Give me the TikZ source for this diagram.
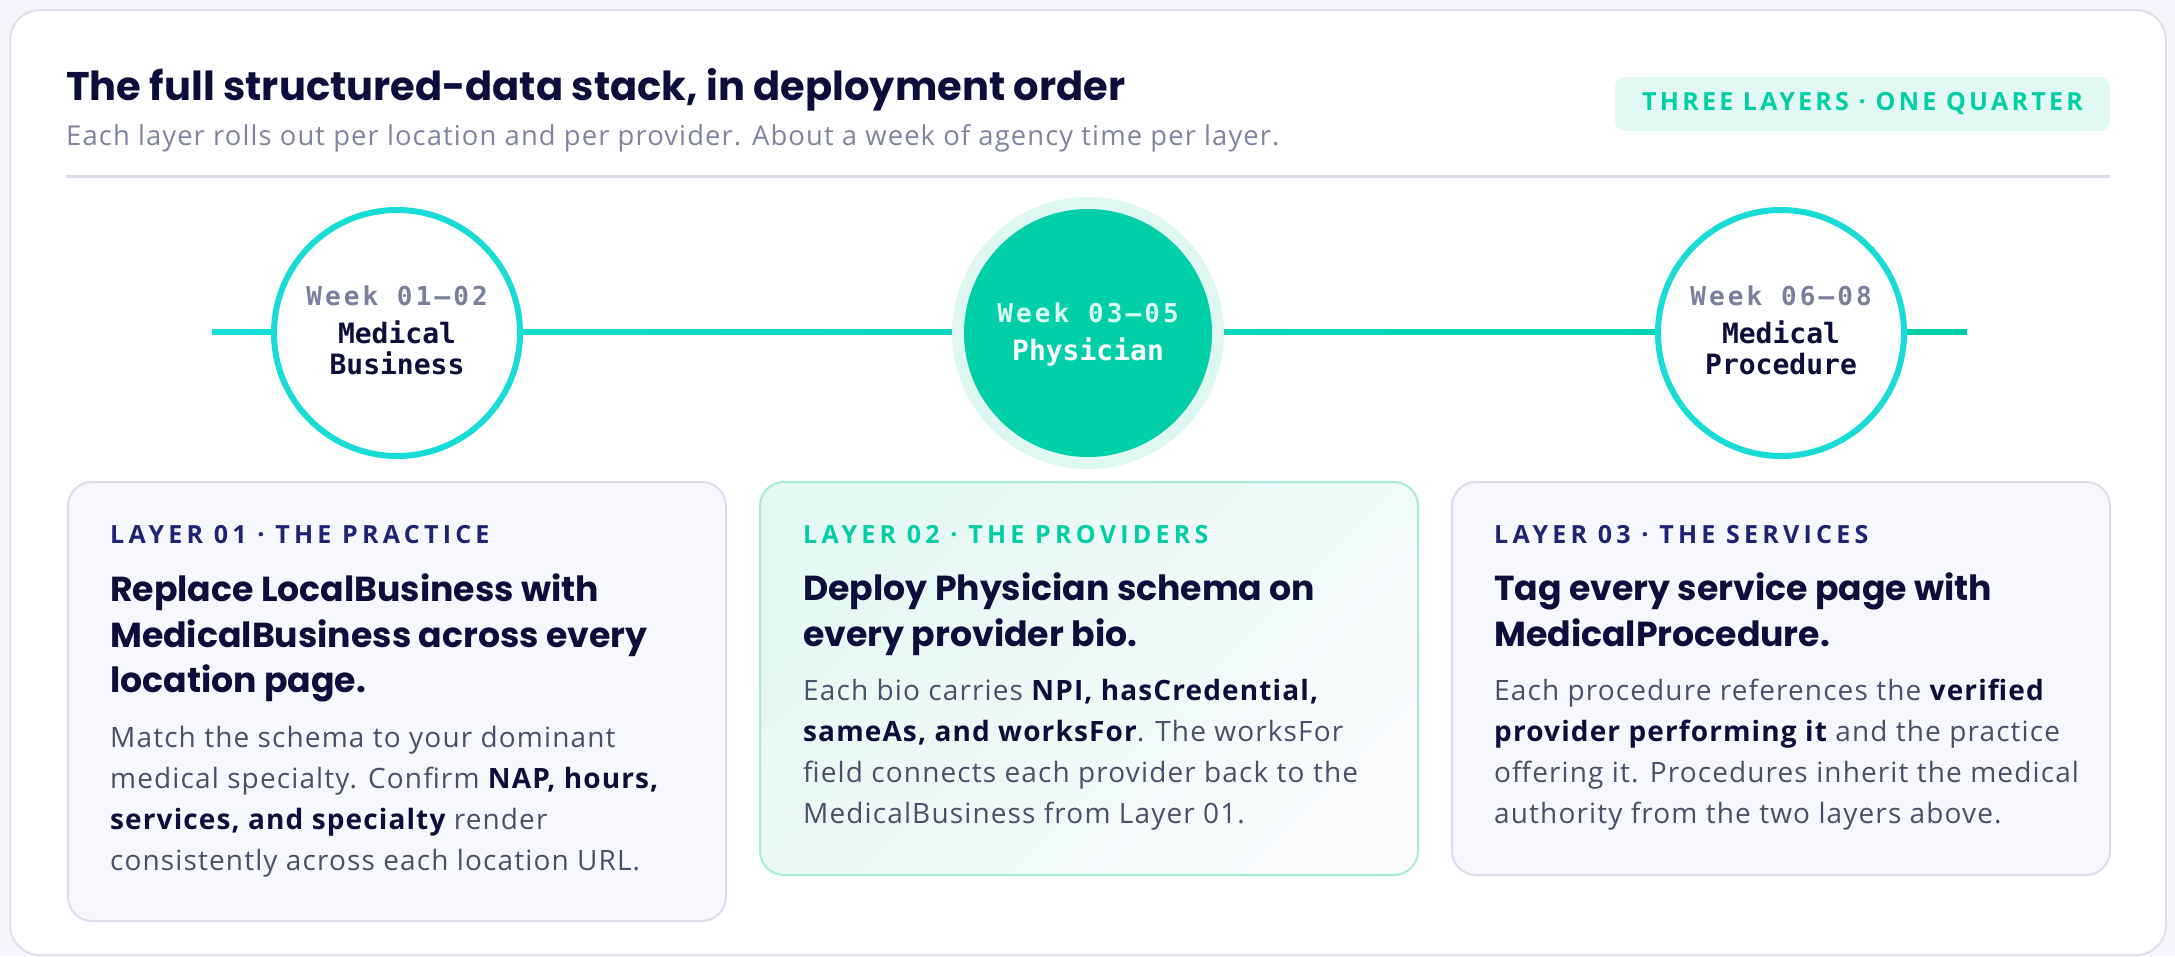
\documentclass[tikz,border=0pt]{standalone}
\usepackage{fontspec}
\usetikzlibrary{calc}
\newfontfamily\headfont{Poppins}
\newfontfamily\bodyfont{Open Sans}[LetterSpace=4]
\newfontfamily\labelfont{Open Sans}[LetterSpace=17]
\newfontfamily\badgefont{Open Sans}[LetterSpace=13]
\newfontfamily\monofont{DejaVu Sans Mono}
\newfontfamily\monowide{DejaVu Sans Mono}[LetterSpace=12]
\definecolor{pagebg}{HTML}{F6F7FC}
\definecolor{cardline}{HTML}{DFE0EC}
\definecolor{ink}{HTML}{0E0E3C}
\definecolor{subgray}{HTML}{80849F}
\definecolor{bodygray}{HTML}{4B4F69}
\definecolor{sepline}{HTML}{DCDCE9}
\definecolor{badgebg}{HTML}{E2F8F2}
\definecolor{mint}{HTML}{00CFA3}
\definecolor{navy}{HTML}{1F2374}
\definecolor{cyanA}{HTML}{1ADCD7}
\definecolor{greenA}{HTML}{00CFA8}
\definecolor{halo}{HTML}{DFF7F1}
\definecolor{weekgray}{HTML}{7B7F9E}
\definecolor{weeklight}{HTML}{DCFBF2}
\definecolor{cardfill}{HTML}{F7F8FE}
\definecolor{cardedge}{HTML}{DCDCEC}
\definecolor{mintedge}{HTML}{A6ECD9}
\definecolor{mintfill}{HTML}{E5F8F3}
\definecolor{mintend}{HTML}{F9FBFD}
\newcommand\bodystrong[1]{{\bfseries\color{ink}#1}}
\tikzset{
  txt/.style={inner sep=0pt, anchor=base west},
  ctr/.style={inner sep=0pt, anchor=base},
  titlefont/.style={font=\headfont\bfseries\fontsize{40}{48}\selectfont, text=ink},
  subfont/.style={font=\bodyfont\fontsize{27.4}{32}\selectfont, text=subgray},
  headtxt/.style={txt, font=\headfont\bfseries\fontsize{34.7}{42}\selectfont, text=ink},
  bodytxt/.style={txt, font=\bodyfont\fontsize{28}{33}\selectfont, text=bodygray},
  labeltxt/.style={txt, font=\labelfont\bfseries\fontsize{25}{30}\selectfont},
  weektxt/.style={ctr, font=\monowide\bfseries\fontsize{26}{31}\selectfont},
  nametxt/.style={ctr, font=\monofont\bfseries\fontsize{28}{33}\selectfont},
  ring/.style={circle, minimum size=246pt, inner sep=0pt, draw=cyanA, line width=6pt, fill=white},
  cardbox/.style={rectangle, rounded corners=24pt, draw=cardedge, line width=2pt, fill=cardfill, minimum width=658pt, minimum height=439pt, inner sep=0pt},
}
\begin{document}
\begin{tikzpicture}[x=1pt,y=-1pt]
\useasboundingbox (0,0) rectangle (2175,956);
\fill[pagebg] (0,0) rectangle (2175,956);
\node[rectangle, rounded corners=30pt, draw=cardline, line width=2pt, fill=white, minimum width=2156pt, minimum height=945pt, inner sep=0pt] (outer) at (1088,482.5) {};

% header
\node[txt, titlefont] (title) at (66,100) {The full structured-data stack, in deployment order};
\node[txt, subfont] (subtitle) at (66,145) {Each layer rolls out per location and per provider. About a week of agency time per layer.};
\node[rectangle, rounded corners=10pt, fill=badgebg, minimum width=495pt, minimum height=54pt, inner sep=0pt,
      font=\badgefont\bfseries\fontsize{25}{30}\selectfont, text=mint] (badge) at (1862.5,104) {THREE LAYERS · ONE QUARTER};
\coordinate (sepL) at (66,176);
\coordinate (sepR) at (2110,176);
\draw[sepline, line width=3pt] (sepL) -- (sepR);

% timeline
\coordinate (tlL) at (212,332);
\coordinate (tlR) at (1967,332);
\shade[left color=cyanA, right color=greenA] ($(tlL)+(0,-2.75)$) rectangle ($(tlR)+(0,2.75)$);

\node[circle, minimum size=272pt, inner sep=0pt, fill=halo] (c2halo) at (1088,333) {};
\node[ring] (c1) at (397,333) {};
\node[circle, minimum size=248pt, inner sep=0pt, fill=greenA] (c2) at (1088,333) {};
\node[ring] (c3) at (1781,333) {};

\node[weektxt, text=weekgray] (w1) at (397,305) {Week 01–02};
\node[nametxt, text=ink] (n1a) at (397,343) {Medical};
\node[nametxt, text=ink] (n1b) at (397,374) {Business};

\node[weektxt, text=weeklight] (w2) at (1088,322) {Week 03–05};
\node[nametxt, text=white] (n2) at (1088,360) {Physician};

\node[weektxt, text=weekgray] (w3) at (1781,305) {Week 06–08};
\node[nametxt, text=ink] (n3a) at (1781,343) {Medical};
\node[nametxt, text=ink] (n3b) at (1781,374) {Procedure};

% cards
\node[cardbox] (card1) at (397,701.5) {};
\node[cardbox, minimum height=393pt, draw=mintedge, top color=mintfill, bottom color=mintend, shading angle=45] (card2) at (1089,678.5) {};
\node[cardbox, minimum height=393pt] (card3) at (1781,678.5) {};

% card 1
\node[labeltxt, text=navy] (l1) at (110,543) {LAYER 01 · THE PRACTICE};
\node[headtxt] (h1a) at (110,601) {Replace LocalBusiness with};
\node[headtxt] (h1b) at (110,647) {MedicalBusiness across every};
\node[headtxt] (h1c) at (110,692) {location page.};
\node[bodytxt] (b1a) at (110,747) {Match the schema to your dominant};
\node[bodytxt] (b1b) at (110,788) {medical specialty. Confirm \bodystrong{NAP, hours,}};
\node[bodytxt] (b1c) at (110,829) {\bodystrong{services, and specialty} render};
\node[bodytxt] (b1d) at (110,870) {consistently across each location URL.};

% card 2
\node[labeltxt, text=mint] (l2) at (803,543) {LAYER 02 · THE PROVIDERS};
\node[headtxt] (h2a) at (803,600) {Deploy Physician schema on};
\node[headtxt] (h2b) at (803,646) {every provider bio.};
\node[bodytxt] (b2a) at (803,700) {Each bio carries \bodystrong{NPI, hasCredential,}};
\node[bodytxt] (b2b) at (803,741) {\bodystrong{sameAs, and worksFor}. The worksFor};
\node[bodytxt] (b2c) at (803,782) {field connects each provider back to the};
\node[bodytxt] (b2d) at (803,823) {MedicalBusiness from Layer 01.};

% card 3
\node[labeltxt, text=navy] (l3) at (1494,543) {LAYER 03 · THE SERVICES};
\node[headtxt] (h3a) at (1494,600) {Tag every service page with};
\node[headtxt] (h3b) at (1494,646) {MedicalProcedure.};
\node[bodytxt] (b3a) at (1494,700) {Each procedure references the \bodystrong{verified}};
\node[bodytxt] (b3b) at (1494,741) {\bodystrong{provider performing it} and the practice};
\node[bodytxt] (b3c) at (1494,782) {offering it. Procedures inherit the medical};
\node[bodytxt] (b3d) at (1494,823) {authority from the two layers above.};
\end{tikzpicture}
\end{document}
